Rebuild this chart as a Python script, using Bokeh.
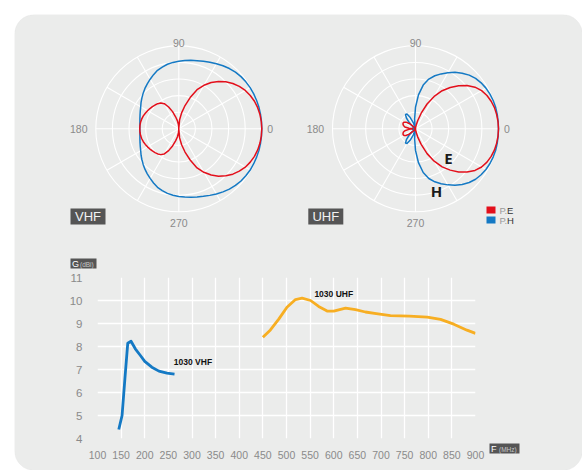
import numpy as np
from bokeh.plotting import figure
from bokeh.models import Range1d, FixedTicker, BoxAnnotation
from bokeh.embed import file_html
from bokeh.resources import INLINE
from bokeh.core.properties import value

# ---------------- polar pattern data (radius 1 = outer ring), angles 0..180 deg, symmetric
polar_angles = list(range(0, 181, 5))
vhf_e = [1.0, 0.998, 0.993, 0.984, 0.97, 0.95, 0.925, 0.89, 0.85, 0.80, 0.745, 0.68, 0.605,
         0.52, 0.40, 0.29, 0.195, 0.11, 0.0,
         0.05, 0.10, 0.15, 0.22, 0.29, 0.35, 0.38, 0.395, 0.405, 0.415, 0.425, 0.435, 0.445,
         0.455, 0.462, 0.467, 0.47, 0.47]
vhf_h = [1.0, 1.0, 1.0, 1.0, 0.998, 0.996, 0.993, 0.986, 0.978, 0.965, 0.948, 0.928, 0.906,
         0.885, 0.866, 0.85, 0.838, 0.826, 0.815, 0.803, 0.79, 0.77, 0.75, 0.72, 0.69, 0.662,
         0.635, 0.607, 0.58, 0.555, 0.53, 0.512, 0.497, 0.485, 0.476, 0.471, 0.47]
uhf_e = [1.0, 0.998, 0.993, 0.985, 0.97, 0.95, 0.92, 0.875, 0.81, 0.735, 0.65, 0.56, 0.45,
         0.33, 0.2, 0.1, 0.04, 0.01, 0.0, 0.0, 0.0, 0.0, 0.0, 0.0, 0.0, 0.0, 0.02, 0.05,
         0.10, 0.14, 0.16, 0.165, 0.16, 0.15, 0.13, 0.08, 0.03]
uhf_h = [1.0, 1.0, 1.0, 1.0, 0.996, 0.99, 0.98, 0.965, 0.945, 0.915, 0.875, 0.83, 0.78,
         0.73, 0.68, 0.62, 0.535, 0.41, 0.26, 0.12, 0.03, 0.0, 0.08, 0.15, 0.205, 0.21,
         0.17, 0.11, 0.05, 0.01, 0.0, 0.0, 0.01, 0.025, 0.035, 0.04, 0.04]
ring_levels = [0.2, 0.4, 0.6, 0.8, 1.0]
spoke_angles = list(range(0, 360, 30))
polar_labels = ["0", "90", "180", "270"]
band_names = ["VHF", "UHF"]
legend_names = ["E", "H"]

# ---------------- gain data
vhf_freq = [145, 152, 158, 164, 171, 180, 190, 200, 215, 230, 247, 263]
vhf_gain = [4.39, 5.0, 6.6, 8.14, 8.23, 7.9, 7.63, 7.35, 7.1, 6.93, 6.84, 6.8]
uhf_freq = [450, 466, 484, 501, 519, 533, 551, 568, 586, 600, 625, 646, 667, 690, 720,
            760, 798, 826, 854, 882, 900]
uhf_gain = [8.40, 8.72, 9.20, 9.71, 10.04, 10.10, 10.0, 9.74, 9.54, 9.54, 9.67, 9.6, 9.50,
            9.43, 9.34, 9.32, 9.28, 9.18, 8.97, 8.71, 8.57]
freq_ticks = list(range(100, 901, 50))
gain_ticks = list(range(4, 12))
series_names = ["1030 VHF", "1030 UHF"]
axis_names = [("G", "(dBi)"), ("F", "(MHz)")]

# ---------------- styles / layout constants (page pixels)
PANEL = "#ebeceb"
RED = "#e30f1b"
BLUE = "#1479c4"
ORANGE = "#f7ae22"
GRAYTXT = "#8a8a8a"
DARKBOX = "#555555"
R_PX = 83.0
VC = (178.3, 128.3)   # VHF polar centre
UC = (415.0, 128.3)   # UHF polar centre
PANEL_L, PANEL_T, PANEL_R, PANEL_B = 14, 14, 582, 470


def ux(px):
    return (px - VC[0]) / R_PX


def uy(py):
    return (VC[1] - py) / R_PX


UHF_OFF = ux(UC[0])
SANS = value("Liberation Sans")

# ---------------- background panel figure with the polar diagrams
bg = figure(width=PANEL_R, height=PANEL_B, output_backend="svg", toolbar_location=None,
            x_range=Range1d(ux(PANEL_L), ux(PANEL_R)), y_range=Range1d(uy(PANEL_B), uy(PANEL_T)),
            x_axis_location=None, y_axis_location=None,
            min_border_left=PANEL_L, min_border_top=PANEL_T,
            min_border_right=0, min_border_bottom=0,
            background_fill_color="white", border_fill_color="white", outline_line_color=None)
bg.grid.visible = False
bg.add_layout(BoxAnnotation(left=ux(PANEL_L), right=ux(PANEL_R), top=uy(PANEL_T),
                            bottom=uy(PANEL_B), fill_color=PANEL, fill_alpha=1.0,
                            line_color="#e4e5e4", line_width=1, border_radius=20,
                            level="underlay"))


def full(vals):
    ang = polar_angles + [360 - a for a in polar_angles[-2::-1]]
    rr = vals + vals[-2::-1]
    return np.radians(ang), np.array(rr)


for cx in [0.0, UHF_OFF]:
    bg.circle(x=[cx] * len(ring_levels), y=[0] * len(ring_levels), radius=ring_levels,
              fill_alpha=0, line_color="white", line_width=1.1)
    sa = np.radians(spoke_angles)
    bg.segment(x0=[cx] * len(sa), y0=[0] * len(sa), x1=cx + np.cos(sa), y1=np.sin(sa),
               line_color="white", line_width=1.1)
    kw = dict(text_color=GRAYTXT, text_font_size="10.5px", text_font=SANS)
    bg.text(x=[cx + 1.065], y=[0], text=[polar_labels[0]], text_align="left",
            text_baseline="middle", **kw)
    bg.text(x=[cx], y=[1.035], text=[polar_labels[1]], text_align="center",
            text_baseline="alphabetic", **kw)
    bg.text(x=[cx - 1.10], y=[0], text=[polar_labels[2]], text_align="right",
            text_baseline="middle", **kw)
    bg.text(x=[cx], y=[-1.135], text=[polar_labels[3]], text_align="center",
            text_baseline="middle", **kw)

for cx, h, e in [(0.0, vhf_h, vhf_e), (UHF_OFF, uhf_h, uhf_e)]:
    th, rr = full(h)
    bg.line(cx + rr * np.cos(th), rr * np.sin(th), line_color=BLUE, line_width=1.5)
    th, rr = full(e)
    bg.line(cx + rr * np.cos(th), rr * np.sin(th), line_color=RED, line_width=1.5)

# band boxes
for name, bx in zip(band_names, [87.5, 325.3]):
    bg.rect(x=[ux(bx)], y=[uy(216)], width=35, height=16, width_units="screen",
            height_units="screen", fill_color=DARKBOX, line_color=None)
    bg.text(x=[ux(bx)], y=[uy(216)], text=[name], text_align="center",
            text_baseline="middle", text_color="#f2f2f2", text_font_size="13px", text_font=SANS)

# E / H labels
bg.text(x=[ux(448), ux(436)], y=[uy(157), uy(190)], text=legend_names,
        text_align="center", text_baseline="middle", text_color="#1a1a1a",
        text_font_size="15px", text_font_style="bold", text_font=value("Open Sans"))

# legend
for i, (nm, col) in enumerate(zip(legend_names, [RED, BLUE])):
    py = 209.5 + i * 10
    bg.rect(x=[ux(490.5)], y=[uy(py)], width=9, height=7, width_units="screen",
            height_units="screen", fill_color=col, line_color=None)
    bg.text(x=[ux(499)], y=[uy(py)], text=["P."], text_align="left",
            text_baseline="middle", text_color="#9a9a9a", text_font_size="9.5px", text_font=SANS)
    bg.text(x=[ux(506.5)], y=[uy(py)], text=[nm], text_align="left",
            text_baseline="middle", text_color="#333333", text_font_size="9.5px", text_font=SANS)

# axis-name boxes "G (dBi)" and "F (MHz)"
for (big, small), (x0, yc, bw) in zip(axis_names, [(70, 263, 26), (489, 448, 30)]):
    bg.rect(x=[ux(x0 + bw / 2)], y=[uy(yc)], width=bw, height=10, width_units="screen",
            height_units="screen", fill_color=DARKBOX, line_color=None)
    bg.text(x=[ux(x0 + 1.5)], y=[uy(yc)], text=[big], text_align="left", text_baseline="middle",
            text_color="white", text_font_size="9px", text_font=SANS)
    bg.text(x=[ux(x0 + 9.5)], y=[uy(yc + 0.5)], text=[small], text_align="left",
            text_baseline="middle", text_color="#c8c8c8", text_font_size="6.5px", text_font=SANS)

# ---------------- gain chart (overlaid on the panel)
G_TOP = 245
FR_L, FR_R, FR_T, FR_B = 97, 475, 277, 438
g = figure(width=PANEL_R - PANEL_L, height=PANEL_B - G_TOP, output_backend="svg",
           toolbar_location=None, x_range=Range1d(100, 900), y_range=Range1d(4, 11),
           min_border_left=FR_L - PANEL_L, min_border_right=PANEL_R - FR_R,
           min_border_top=FR_T - G_TOP, min_border_bottom=PANEL_B - FR_B,
           background_fill_alpha=0.0, border_fill_alpha=0.0, outline_line_color=None,
           styles={"position": "absolute", "left": f"{PANEL_L}px", "top": f"{G_TOP}px"})
g.xaxis.ticker = FixedTicker(ticks=freq_ticks)
g.yaxis.ticker = FixedTicker(ticks=gain_ticks)
for ax in (g.xaxis, g.yaxis):
    ax.axis_line_color = None
    ax.major_tick_line_color = None
    ax.minor_tick_line_color = None
    ax.major_label_text_color = GRAYTXT
    ax.major_label_text_font = "Liberation Sans"
g.xaxis.major_label_text_font_size = "10.5px"
g.yaxis.major_label_text_font_size = "11.5px"
g.xaxis.major_label_standoff = 6
g.yaxis.major_label_standoff = 9
g.grid.grid_line_color = "white"
g.grid.grid_line_width = 1.3
g.grid.grid_line_alpha = 1.0

g.line(vhf_freq, vhf_gain, line_color=BLUE, line_width=2.8, line_join="round")
g.line(uhf_freq, uhf_gain, line_color=ORANGE, line_width=2.8, line_join="round")

g.text(x=[261.5, 559.0], y=[7.33, 10.27], text=series_names, text_align="left",
       text_baseline="middle", text_color="#111111", text_font_size="8.5px",
       text_font_style="bold", text_font=SANS)

open("out.html", "w").write(file_html([bg, g], INLINE))
